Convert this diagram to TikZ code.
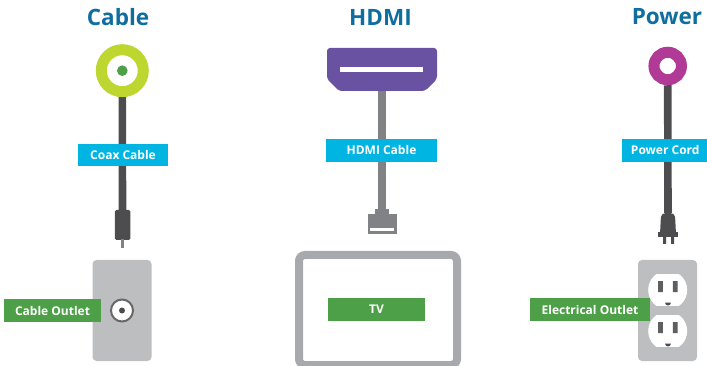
\documentclass[tikz,border=0pt]{standalone}
\usepackage{fontspec}
\setmainfont{Open Sans}
\definecolor{headblue}{HTML}{0F6E9F}
\definecolor{labelblue}{HTML}{00B5E2}
\definecolor{labelgreen}{HTML}{4DA047}
\definecolor{darkcord}{HTML}{4D4D4F}
\definecolor{midcord}{HTML}{808285}
\definecolor{plate}{HTML}{BCBEC0}
\definecolor{tvframe}{HTML}{A7A9AC}
\definecolor{lime}{HTML}{BED630}
\definecolor{hdmipurple}{HTML}{6A52A2}
\definecolor{magenta2}{HTML}{B13A97}
\tikzset{
  heading/.style={text=headblue,font=\fontsize{22.5}{28}\selectfont\bfseries,inner sep=0pt,anchor=center},
  tag/.style={text=white,font=\fontsize{12}{15}\selectfont\bfseries,inner sep=0pt,anchor=center,minimum height=22.5pt},
  bluetag/.style={tag,fill=labelblue},
  greentag/.style={tag,fill=labelgreen},
  ring/.style={circle,inner sep=0pt,line width=#1},
  cord/.style={line width=7.6pt,draw=darkcord},
  platebox/.style={fill=plate,rounded corners=4pt,inner sep=0pt,minimum width=59pt,minimum height=101pt},
  blockpart/.style={fill=darkcord,inner sep=0pt},
}
\begin{document}
\begin{tikzpicture}[x=1pt,y=-1pt]
\useasboundingbox (0,0) rectangle (707,366);
% headings
\node[heading] (hcable) at (118,17) {Cable};
\node[heading] (hhdmi) at (380.5,17) {HDMI};
\node[heading] (hpower) at (667,17) {Power};
% cable column
\node[ring=11pt,draw=lime,fill=white,minimum size=42pt] (coaxring) at (122.3,70.7) {};
\node[circle,fill=labelgreen,minimum size=10.6pt,inner sep=0pt] (coaxdot) at (122.3,70.7) {};
\node[blockpart,rounded corners=1.5pt,minimum width=15.5pt,minimum height=30pt] (coaxplug) at (122.5,225) {};
\fill[midcord] (120.8,239.5) rectangle (124.2,248);
\draw[cord] (coaxring.south) -- (coaxplug.north);
\node[bluetag,minimum width=90pt] (coaxtag) at (123,155) {Coax Cable};
\node[platebox] (cableplate) at (122,310.5) {};
\node[circle,draw=darkcord!85,line width=2pt,fill=white,minimum size=22pt,inner sep=0pt] (cablejack) at (122,310.5) {};
\node[circle,fill=darkcord,minimum size=6pt,inner sep=0pt] (cablepin) at (122,310.5) {};
\node[greentag,minimum width=97pt] (cableout) at (52.5,310.5) {Cable Outlet};
% hdmi column
\fill[hdmipurple,rounded corners=3pt] (327,48) -- (437,48) -- (437,79) -- (425,91)  -- (339,91) -- (327,79) -- cycle;
\node[fill=white,inner sep=0pt,minimum width=82.5pt,minimum height=5pt] (hdmislot) at (381.7,69.5) {};
\coordinate (hdmibottom) at (382,91);
\node[inner sep=0pt,fill=midcord,minimum width=29pt,minimum height=20pt] (hdmiplug) at (382,224.5) {};
\fill[midcord] (375,209) rectangle (389,215);
\node[inner sep=0pt,fill=white,minimum width=24.5pt,minimum height=3.5pt] (hdmiplugslot) at (382,229.5) {};
\draw[cord,draw=midcord] (hdmibottom) -- (382,209);
\node[bluetag,minimum width=111pt] (hdmitag) at (381.5,150.5) {HDMI Cable};
\node[draw=tvframe,line width=8pt,rounded corners=6pt,fill=white,minimum width=158pt,minimum height=110pt,inner sep=0pt] (tv) at (378,310) {};
\node[greentag,minimum width=97pt] (tvtag) at (376.5,309.5) {TV};
% power column
\node[ring=11pt,draw=magenta2,fill=white,minimum size=27.5pt] (powerring) at (667.7,66) {};
\node[inner sep=0pt,minimum width=16pt,minimum height=20pt] (powerbody) at (668,223) {};
\fill[darkcord,rounded corners=2pt] (660,234) -- (661,215) -- (664,213) -- (672,213) -- (675,215) -- (676,234) -- cycle;
\fill[darkcord] (658,232.5) rectangle (678,237);
\fill[darkcord] (663,237) rectangle (666,244) (671,237) rectangle (674,244);
\draw[cord] (powerring.south) -- (powerbody.north);
\node[bluetag,minimum width=85pt] (powertag) at (664.5,150.5) {\hspace{1.5pt}Power Cord};
\node[platebox] (powerplate) at (667.5,310.5) {};
\foreach \f/\c in {fa/290,fb/331}{
  \begin{scope}
    \clip (648,\c-15.2) rectangle (688,\c+15.2);
    \fill[white] (667.7,\c) circle[radius=19.5];
  \end{scope}
  \fill[darkcord!90] (658,\c-9) rectangle (662.8,\c+2.2) (672.8,\c-9) rectangle (677.5,\c+2.2);
  \fill[darkcord] (665,\c+12.5) arc[start angle=180,end angle=0,radius=3] -- cycle;
}
\node[greentag,minimum width=120pt] (powerout) at (590,309.5) {Electrical Outlet};
\end{tikzpicture}
\end{document}
